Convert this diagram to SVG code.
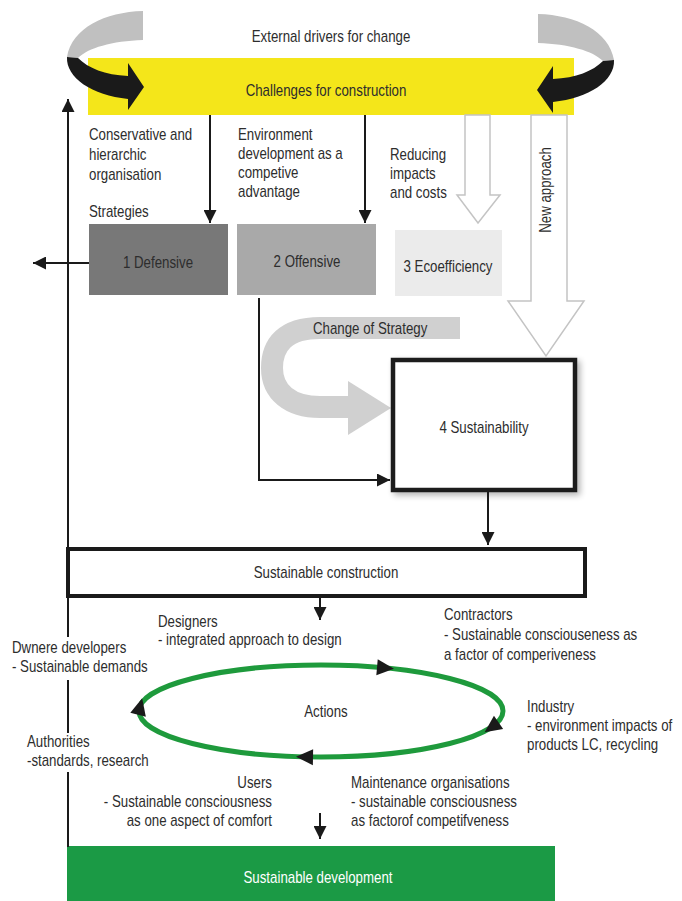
<svg xmlns="http://www.w3.org/2000/svg" width="682" height="901" viewBox="0 0 682 901">
<style>
text{font-family:"Liberation Sans",Arial,sans-serif;font-size:16px;fill:#2d2d2d}
.c{text-anchor:middle}
.r{text-anchor:end}
.w{fill:#ffffff}
.ln{fill:none;stroke:#1a1a1a;stroke-width:2}
.hol{fill:#ffffff;stroke:#c4c4c4;stroke-width:1.5}
.tri{fill:#1a1a1a}
</style>
<defs>
<marker id="ah" viewBox="0 0 10 10" refX="10" refY="5" markerUnits="userSpaceOnUse" markerWidth="13" markerHeight="13" orient="auto">
<path d="M0,0 L10,5 L0,10 z" fill="#1a1a1a"/>
</marker>
<filter id="sh" x="-10%" y="-10%" width="125%" height="125%">
<feGaussianBlur in="SourceAlpha" stdDeviation="3"/>
<feOffset dx="3" dy="3"/>
<feComponentTransfer><feFuncA type="linear" slope="0.3"/></feComponentTransfer>
<feMerge><feMergeNode/><feMergeNode in="SourceGraphic"/></feMerge>
</filter>
<g id="loop">
<path d="M143,11 C105,12 72,28 67,57 L78,58 C88,48 112,41 143,40 Z" fill="#c0c0c0"/>
<path d="M67,57 C66,78 92,95 128,99 L128,110 L144,87 L128,63 L128,76 C105,75 88,68 78,58 Z" fill="#1a1a1a"/>
</g>
</defs>
<rect width="682" height="901" fill="#ffffff"/>

<g id="challenges">
<rect x="88" y="58" width="486" height="57" fill="#f4e61a"/>
<text class="c" transform="translate(326,96) scale(0.83,1)">Challenges for construction</text>
</g>
<g id="external-drivers">
<use href="#loop"/>
<use href="#loop" transform="translate(681,3) scale(-1,1)"/>
<text class="c" transform="translate(331,42) scale(0.83,1)">External drivers for change</text>
</g>

<g id="labels-top">
<text transform="translate(89,140) scale(0.83,1)">Conservative and</text>
<text transform="translate(89,160) scale(0.83,1)">hierarchic</text>
<text transform="translate(89,180) scale(0.83,1)">organisation</text>
<text transform="translate(89,217) scale(0.83,1)">Strategies</text>
<text transform="translate(238,140) scale(0.83,1)">Environment</text>
<text transform="translate(238,159) scale(0.83,1)">development as a</text>
<text transform="translate(238,178) scale(0.83,1)">competive</text>
<text transform="translate(238,197) scale(0.83,1)">advantage</text>
<text transform="translate(390,160) scale(0.83,1)">Reducing</text>
<text transform="translate(390,179) scale(0.83,1)">impacts</text>
<text transform="translate(390,198) scale(0.83,1)">and costs</text>
</g>

<g id="defensive">
<rect x="89" y="224" width="139" height="71" fill="#787878"/>
<text class="c" transform="translate(158,268) scale(0.83,1)">1 Defensive</text>
</g>
<g id="offensive">
<rect x="237" y="224" width="139" height="71" fill="#a9a9a9"/>
<text class="c" transform="translate(307,267) scale(0.83,1)">2 Offensive</text>
</g>
<g id="ecoefficiency">
<rect x="395" y="230" width="107" height="66" fill="#ebebeb"/>
<text class="c" transform="translate(448,272) scale(0.83,1)">3 Ecoefficiency</text>
</g>

<g id="change-of-strategy">
<path d="M460,328 L320,328 C285,328 272,345 272,368 C272,392 290,407 320,407 L352,407" fill="none" stroke="#d0d0d0" stroke-width="22"/>
<polygon points="348,381 391,408 348,435" fill="#d0d0d0"/>
<text transform="translate(313,334) scale(0.83,1)">Change of Strategy</text>
</g>

<g id="sustainability">
<rect x="393" y="360" width="182" height="130" fill="#ffffff" stroke="#1a1a1a" stroke-width="4.5" filter="url(#sh)"/>
<text class="c" transform="translate(484,433) scale(0.83,1)">4 Sustainability</text>
</g>

<g id="sustainable-construction">
<rect x="68" y="549" width="517" height="47" fill="#ffffff" stroke="#1a1a1a" stroke-width="4"/>
<text class="c" transform="translate(326,578) scale(0.83,1)">Sustainable construction</text>
</g>

<g id="actions">
<ellipse cx="321" cy="711" rx="182" ry="46" fill="none" stroke="#1e9a3c" stroke-width="5"/>
<polygon class="tri" points="-8,-8 9,0 -8,8" transform="translate(385,668) rotate(5)"/>
<polygon class="tri" points="-8,-8 9,0 -8,8" transform="translate(492,727) rotate(145)"/>
<polygon class="tri" points="-8,-8 9,0 -8,8" transform="translate(305,757) rotate(181)"/>
<polygon class="tri" points="-8,-8 9,0 -8,8" transform="translate(140,707) rotate(-76)"/>
<text class="c" transform="translate(326,717) scale(0.83,1)">Actions</text>
</g>

<g id="actors">
<text transform="translate(158,627) scale(0.83,1)">Designers</text>
<text transform="translate(158,645) scale(0.83,1)">- integrated approach to design</text>
<text transform="translate(444,620) scale(0.83,1)">Contractors</text>
<text transform="translate(444,640) scale(0.83,1)">- Sustainable consciouseness as</text>
<text transform="translate(444,660) scale(0.83,1)">a factor of comperiveness</text>
<text transform="translate(12,653) scale(0.83,1)">Dwnere developers</text>
<text transform="translate(12,672) scale(0.83,1)">- Sustainable demands</text>
<text transform="translate(527,712) scale(0.83,1)">Industry</text>
<text transform="translate(527,731) scale(0.83,1)">- environment impacts of</text>
<text transform="translate(527,750) scale(0.83,1)">products LC, recycling</text>
<text transform="translate(27,747) scale(0.83,1)">Authorities</text>
<text transform="translate(27,766) scale(0.83,1)">-standards, research</text>
<text class="r" transform="translate(272,788) scale(0.83,1)">Users</text>
<text class="r" transform="translate(272,807) scale(0.83,1)">- Sustainable consciousness</text>
<text class="r" transform="translate(272,826) scale(0.83,1)">as one aspect of comfort</text>
<text transform="translate(351,788) scale(0.83,1)">Maintenance organisations</text>
<text transform="translate(351,807) scale(0.83,1)">- sustainable consciousness</text>
<text transform="translate(351,826) scale(0.83,1)">as factorof competifveness</text>
</g>

<g id="sustainable-development">
<rect x="67" y="846" width="488" height="55" fill="#1b9a45"/>
<text class="c w" transform="translate(318,883) scale(0.83,1)">Sustainable development</text>
</g>

<g id="connectors">
<path class="ln" d="M68,637 L68,99" marker-end="url(#ah)"/>
<path class="ln" d="M68,680 L68,733"/>
<path class="ln" d="M68,772 L68,847"/>
<path class="ln" d="M89,263 L33,263" marker-end="url(#ah)"/>
<path class="ln" d="M210,115 L210,223" marker-end="url(#ah)"/>
<path class="ln" d="M365,115 L365,223" marker-end="url(#ah)"/>
<path class="ln" d="M259,298 L259,480 L390,480" marker-end="url(#ah)"/>
<path class="ln" d="M488,492 L488,545" marker-end="url(#ah)"/>
<path class="ln" d="M320,598 L320,620" marker-end="url(#ah)"/>
<path class="ln" d="M320,813 L320,839" marker-end="url(#ah)"/>
<polygon class="hol" points="465,115 490,115 490,195 500,195 478,223 457,195 465,195"/>
<polygon class="hol" points="531,115 567,115 567,301 584,301 546,356 508,301 531,301"/>
<text class="c" transform="translate(551,190) rotate(-90) scale(0.83,1)">New approach</text>
</g>
</svg>
